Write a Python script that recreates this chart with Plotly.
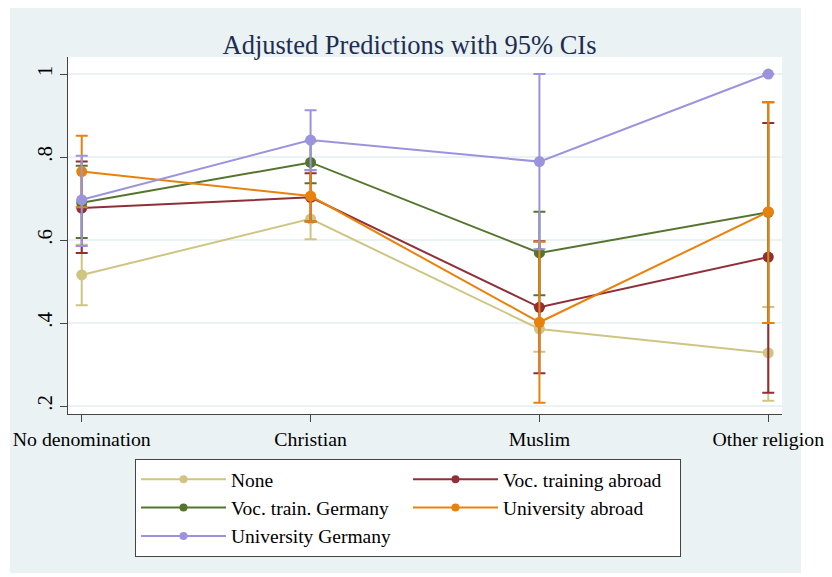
import plotly.graph_objects as go

categories = ["No denomination", "Christian", "Muslim", "Other religion"]
y_tickvals = [0.2, 0.4, 0.6, 0.8, 1.0]
y_ticktext = [".2", ".4", ".6", ".8", "1"]

series_names = ["None", "Voc. training abroad", "Voc. train. Germany",
                "University abroad", "University Germany"]

none_est = [0.516, 0.651, 0.386, 0.328]
none_lo = [0.443, 0.602, 0.331, 0.213]
none_hi = [0.589, 0.700, 0.441, 0.439]

vta_est = [0.677, 0.703, 0.438, 0.559]
vta_lo = [0.569, 0.645, 0.279, 0.232]
vta_hi = [0.789, 0.761, 0.597, 0.882]

vtg_est = [0.690, 0.787, 0.569, 0.667]
vtg_lo = [0.605, 0.737, 0.467, 0.400]
vtg_hi = [0.779, 0.838, 0.668, 0.932]

ua_est = [0.765, 0.706, 0.402, 0.668]
ua_lo = [0.679, 0.645, 0.208, 0.400]
ua_hi = [0.851, 0.768, 0.596, 0.932]

ug_est = [0.697, 0.841, 0.789, 1.0]
ug_lo = [0.586, 0.769, 0.578, 1.0]
ug_hi = [0.803, 0.913, 1.0, 1.0]

colors = ["#cfc583", "#8f2f38", "#55752f", "#e8820c", "#9b94dc"]

all_est = [none_est, vta_est, vtg_est, ua_est, ug_est]
all_lo = [none_lo, vta_lo, vtg_lo, ua_lo, ug_lo]
all_hi = [none_hi, vta_hi, vtg_hi, ua_hi, ug_hi]

# page body has an 8px margin; figure sits at screen (8, 8)
OFF = 8
W, H = 832 - OFF, 577 - OFF
PL, PR, PT, PB = 68, 782, 57, 414          # plot area in screen px
L, R, T, B = PL - OFF, W - (PR - OFF), PT - OFF, H - (PB - OFF)
pw, ph = W - L - R, H - T - B

FONT = "Liberation Serif"


def px_x(p):
    return (p - OFF - L) / pw


def px_y(p):
    return (H - B - (p - OFF)) / ph


fig = go.Figure()
xs = list(range(len(categories)))
for name, est, lo, hi, c in zip(series_names, all_est, all_lo, all_hi, colors):
    fig.add_trace(go.Scatter(
        x=xs, y=est, name=name, mode="lines+markers", showlegend=False,
        line=dict(color=c, width=2),
        marker=dict(color=c, size=11),
        error_y=dict(type="data", symmetric=False,
                     array=[h - e for h, e in zip(hi, est)],
                     arrayminus=[e - l for e, l in zip(est, lo)],
                     color=c, thickness=2, width=6),
    ))
# legend entries (smaller markers as in the reference key)
for name, c in zip(series_names, colors):
    fig.add_trace(go.Scatter(
        x=[None], y=[None], name=name, mode="lines+markers",
        line=dict(color=c, width=2), marker=dict(color=c, size=8),
    ))

shapes = [
    # light blue-grey graph region
    dict(type="rect", xref="paper", yref="paper",
         x0=px_x(10), x1=px_x(801), y0=px_y(573), y1=px_y(8),
         fillcolor="#eaf2f3", line=dict(width=0), layer="below"),
    # white plot region
    dict(type="rect", xref="paper", yref="paper",
         x0=0, x1=1, y0=0, y1=1,
         fillcolor="white", line=dict(width=0), layer="below"),
]

fig.update_layout(
    width=W, height=H,
    margin=dict(l=L, r=R, t=T, b=B, autoexpand=False),
    paper_bgcolor="white", plot_bgcolor="white",
    font=dict(family=FONT, size=20, color="black"),
    title=dict(text="Adjusted Predictions with 95% CIs",
               x=(409.5 - OFF) / W, xref="container",
               xanchor="center", y=(H - (45 - OFF)) / H, yanchor="middle",
               font=dict(family=FONT, size=26.5, color="#1e2d52")),
    xaxis=dict(range=[-0.06, 3.06], tickvals=xs, ticktext=categories,
               showgrid=False, zeroline=False, showline=True, linecolor="#444",
               linewidth=1, ticks="outside", ticklen=7, tickcolor="#444",
               tickfont=dict(size=19.8), automargin=False),
    yaxis=dict(range=[0.181, 1.041], tickvals=y_tickvals, ticktext=y_ticktext,
               tickangle=-90, showgrid=True, gridcolor="#eaf2f3", gridwidth=2,
               zeroline=False, showline=True, linecolor="#444", linewidth=1,
               ticks="outside", ticklen=7, tickcolor="#444",
               tickfont=dict(size=21), automargin=False),
    legend=dict(orientation="h", x=px_x(135), y=px_y(459), xanchor="left",
                yanchor="top", bgcolor="white", bordercolor="#444",
                borderwidth=1, entrywidth=172, itemwidth=85,
                font=dict(size=19.5)),
    shapes=shapes,
)

fig.write_html("out.html")
